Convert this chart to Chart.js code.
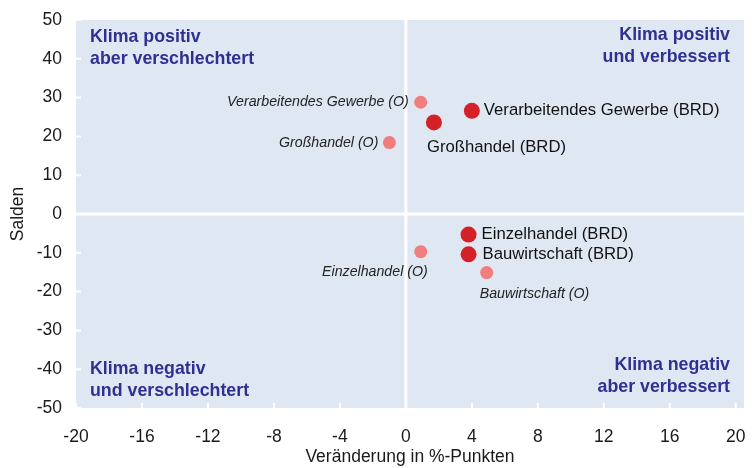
<!DOCTYPE html>
<html>
<head>
<meta charset="utf-8">
<script src="https://cdn.jsdelivr.net/npm/chart.js@4"></script>
<style>
  html, body { margin: 0; padding: 0; background: #fff; }
  #wrap { width: 754px; height: 468px; }
</style>
</head>
<body>
<div id="wrap"><canvas id="klimaChart" width="754" height="468"></canvas></div>
<script>
// Bundesrepublik gesamt
const brdLabels = ['Verarbeitendes Gewerbe (BRD)', 'Großhandel (BRD)', 'Einzelhandel (BRD)', 'Bauwirtschaft (BRD)'];
const brdX = [4.0, 1.7, 3.8, 3.8];
const brdY = [26.6, 23.6, -5.3, -10.4];

// Ostdeutschland
const ostLabels = ['Verarbeitendes Gewerbe (O)', 'Großhandel (O)', 'Einzelhandel (O)', 'Bauwirtschaft (O)'];
const ostX = [0.9, -1.0, 0.9, 4.9];
const ostY = [28.8, 18.4, -9.7, -15.1];

const xTicks = [-20, -16, -12, -8, -4, 0, 4, 8, 12, 16, 20];
const yTicks = [-50, -40, -30, -20, -10, 0, 10, 20, 30, 40, 50];

const quadrantTexts = [
  ['Klima positiv', 'aber verschlechtert'],
  ['Klima positiv', 'und verbessert'],
  ['Klima negativ', 'und verschlechtert'],
  ['Klima negativ', 'aber verbessert']
];

const FONT = '"Liberation Sans", Arial, sans-serif';
const BG = '#dfe7f2';

// where the point labels sit relative to their dots: [dx, dy, align]
const brdPlace = [[12, 0, 'left'], [-7, 25, 'left'], [13, 0, 'left'], [14, 0, 'left']];
const ostPlace = [[-12, 0, 'right'], [-11, 0, 'right'], [7, 20, 'right'], [-7, 21, 'left']];

const toPoints = (xs, ys) => xs.map((x, i) => ({ x: x, y: ys[i] }));

const backdrop = {
  id: 'backdrop',
  beforeDatasetsDraw(chart) {
    const { ctx, chartArea: a, scales: { x, y } } = chart;
    ctx.save();
    ctx.fillStyle = BG;
    ctx.fillRect(a.left, a.top, a.right - a.left, a.bottom - a.top);

    ctx.strokeStyle = '#ffffff';
    // zero lines
    ctx.lineWidth = 3;
    const x0 = x.getPixelForValue(0), y0 = y.getPixelForValue(0);
    ctx.beginPath();
    ctx.moveTo(x0, a.top); ctx.lineTo(x0, a.bottom);
    ctx.moveTo(a.left, y0); ctx.lineTo(a.right, y0);
    ctx.stroke();

    // small inward tick marks
    ctx.lineWidth = 2;
    ctx.beginPath();
    yTicks.forEach(v => {
      const py = y.getPixelForValue(v);
      ctx.moveTo(a.left, py); ctx.lineTo(a.left + 5, py);
    });
    xTicks.forEach(v => {
      const px = x.getPixelForValue(v);
      ctx.moveTo(px, a.bottom); ctx.lineTo(px, a.bottom - 5);
    });
    ctx.stroke();

    // quadrant captions
    ctx.fillStyle = '#2e3192';
    ctx.font = 'bold 17.8px ' + FONT;
    ctx.textBaseline = 'middle';
    const spots = [
      [a.left + 14, a.top + 17, 'left'],
      [a.right - 14, a.top + 15, 'right'],
      [a.left + 14, a.bottom - 39, 'left'],
      [a.right - 14, a.bottom - 43, 'right']
    ];
    quadrantTexts.forEach((lines, i) => {
      const [tx, ty, al] = spots[i];
      ctx.textAlign = al;
      lines.forEach((t, j) => ctx.fillText(t, tx, ty + j * 22));
    });
    ctx.restore();
  },
  afterDatasetsDraw(chart) {
    const { ctx } = chart;
    ctx.save();
    ctx.textBaseline = 'middle';
    const sets = [
      [0, brdLabels, brdPlace, '16.7px ' + FONT, '#111'],
      [1, ostLabels, ostPlace, 'italic 14.2px ' + FONT, '#222']
    ];
    sets.forEach(([di, labels, place, font, color]) => {
      const meta = chart.getDatasetMeta(di);
      ctx.font = font;
      ctx.fillStyle = color;
      meta.data.forEach((pt, i) => {
        const [dx, dy, al] = place[i];
        ctx.textAlign = al;
        ctx.fillText(labels[i], pt.x + dx, pt.y + dy);
      });
    });
    ctx.restore();
  }
};

new Chart(document.getElementById('klimaChart'), {
  type: 'scatter',
  data: {
    datasets: [
      {
        label: 'BRD',
        data: toPoints(brdX, brdY),
        backgroundColor: '#d42128',
        borderWidth: 0,
        pointRadius: 8,
        pointHoverRadius: 8
      },
      {
        label: 'Ost',
        data: toPoints(ostX, ostY),
        backgroundColor: '#f27d7d',
        borderWidth: 0,
        pointRadius: 6.5,
        pointHoverRadius: 6.5
      }
    ]
  },
  options: {
    responsive: false,
    animation: false,
    events: [],
    layout: { padding: { top: 20, right: 10, left: 0, bottom: 0 } },
    plugins: {
      legend: { display: false },
      tooltip: { enabled: false }
    },
    scales: {
      x: {
        type: 'linear',
        min: -20,
        max: 20.5,
        afterBuildTicks: s => { s.ticks = xTicks.map(v => ({ value: v })); },
        afterFit: s => { s.height = 60; s.paddingLeft = 0; s.paddingRight = 0; },
        grid: { display: false, drawTicks: false },
        border: { display: false },
        ticks: {
          padding: 19,
          color: '#1a1a1a',
          font: { family: FONT, size: 17.5 },
          maxRotation: 0
        },
        title: {
          display: true,
          text: 'Veränderung in %-Punkten',
          color: '#1a1a1a',
          font: { family: FONT, size: 17.5 },
          padding: { top: 0, bottom: 0 }
        }
      },
      y: {
        type: 'linear',
        min: -50,
        max: 50,
        afterBuildTicks: s => { s.ticks = yTicks.map(v => ({ value: v })); },
        afterFit: s => { s.width = 76; s.paddingTop = 0; s.paddingBottom = 0; },
        grid: { display: false, drawTicks: false },
        border: { display: false },
        ticks: {
          padding: 14,
          color: '#1a1a1a',
          font: { family: FONT, size: 17.5 }
        },
        title: {
          display: true,
          text: 'Salden',
          color: '#1a1a1a',
          font: { family: FONT, size: 17.5 },
          padding: { top: 8, bottom: 0 }
        }
      }
    }
  },
  plugins: [backdrop]
});
</script>
</body>
</html>
